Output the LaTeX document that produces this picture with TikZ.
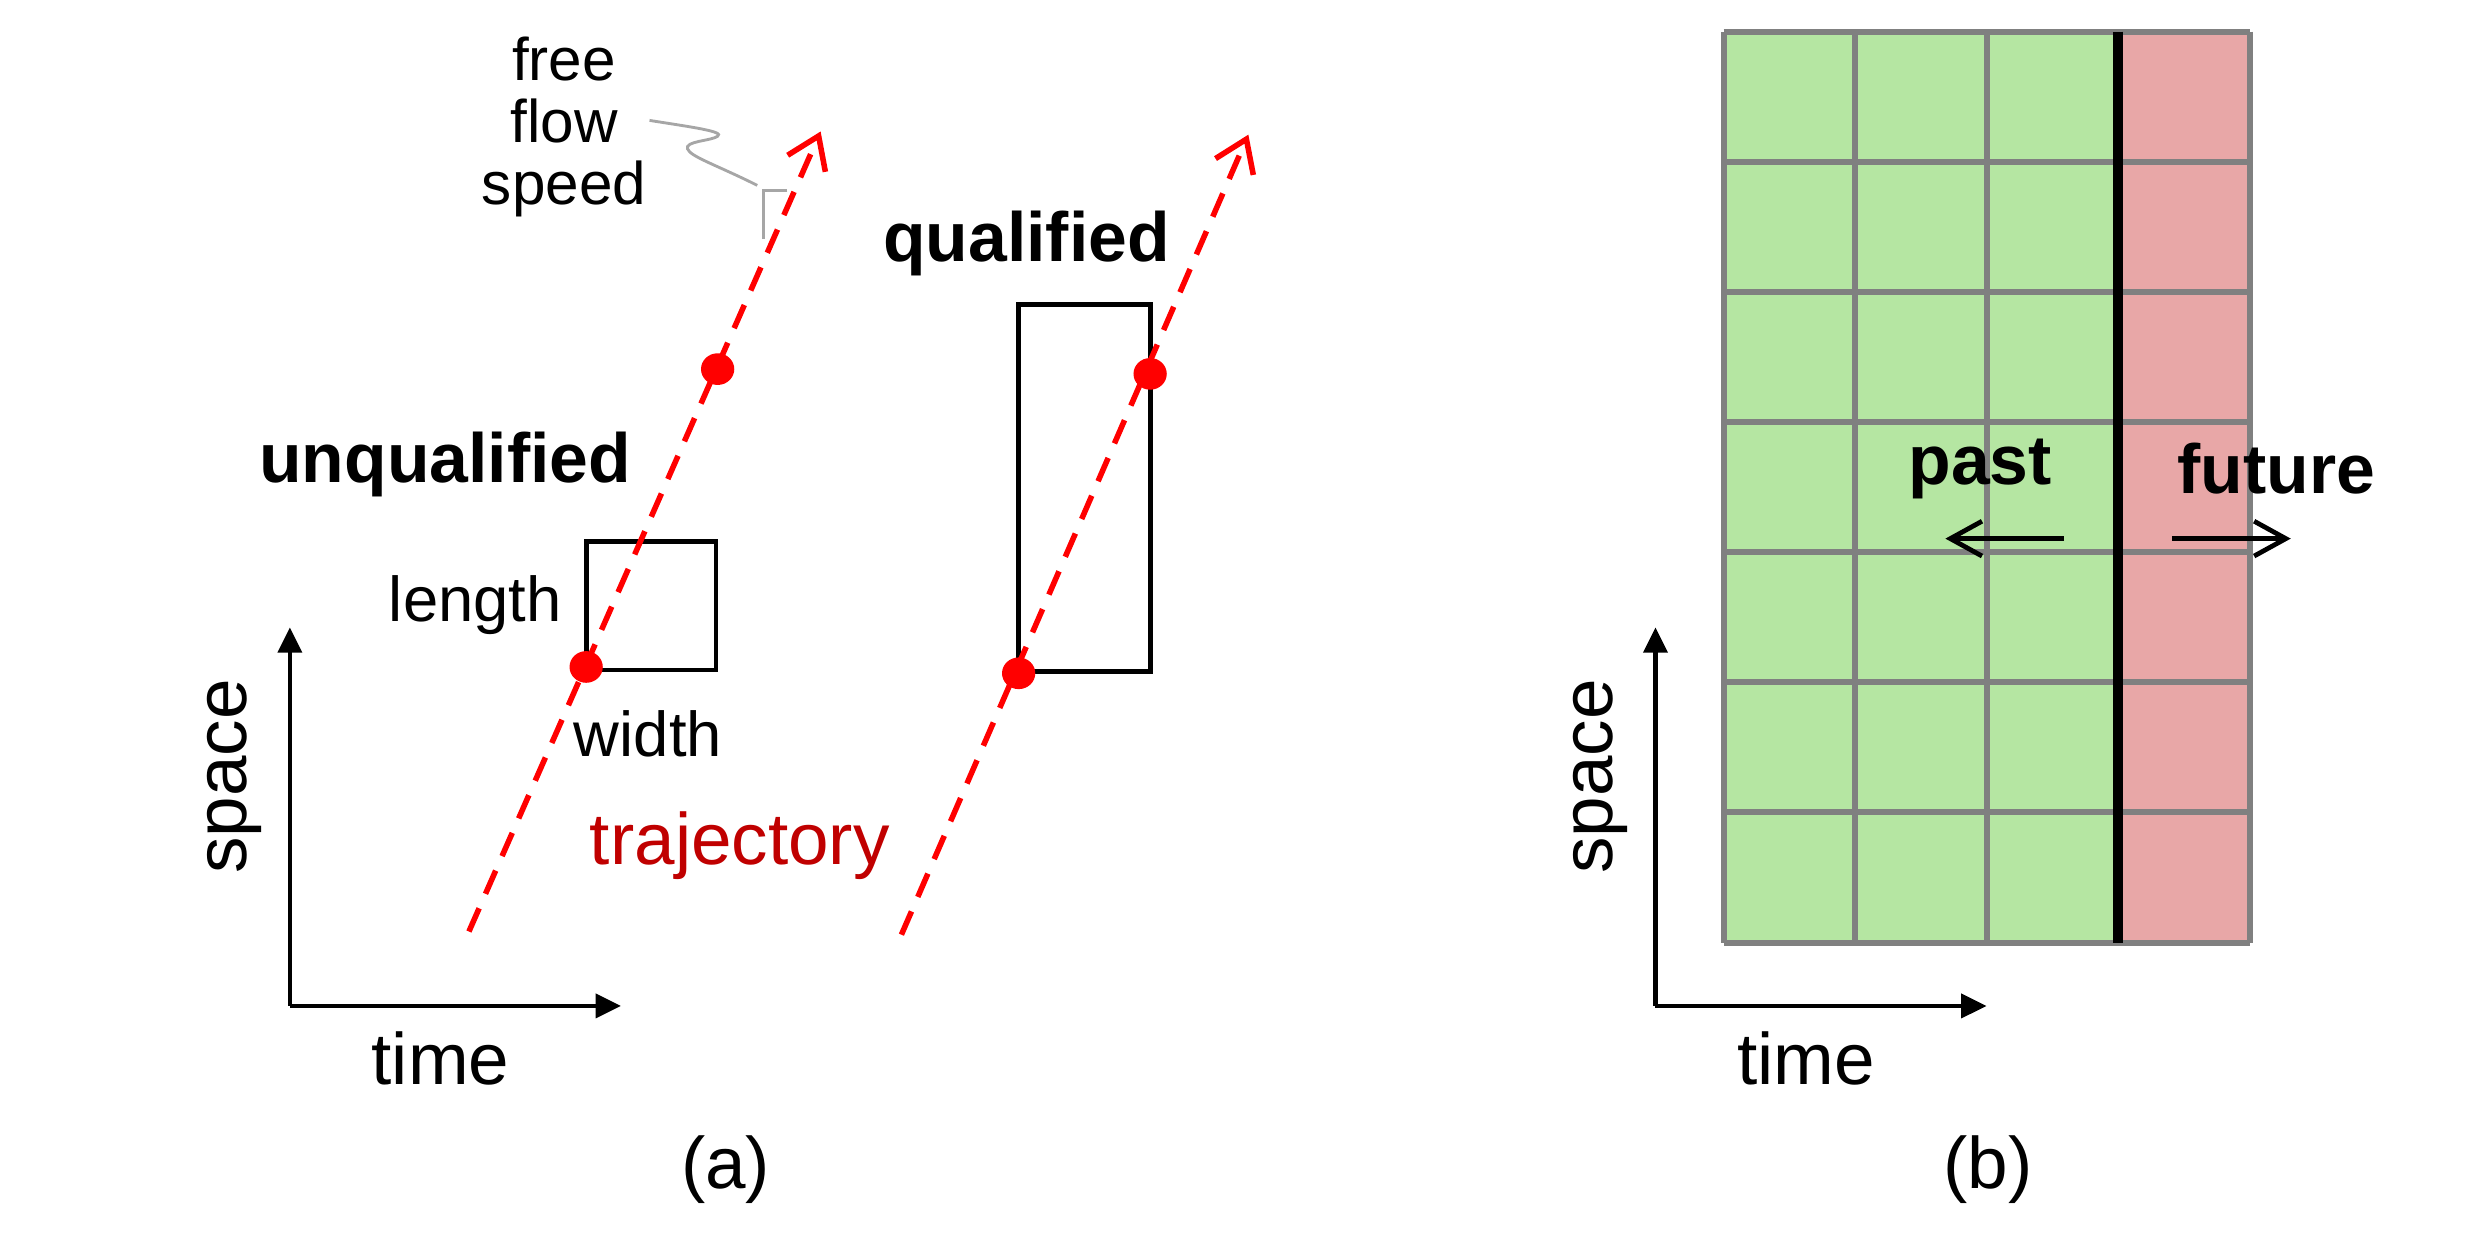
\documentclass[tikz,border=0pt]{standalone}
\usepackage{fontspec}
\setmainfont{Liberation Sans}
\usetikzlibrary{arrows.meta,shapes.geometric}
\definecolor{trajred}{HTML}{FF0000}
\definecolor{labelred}{HTML}{C00000}
\definecolor{gridgray}{HTML}{808080}
\definecolor{cellgreen}{HTML}{B5E6A2}
\definecolor{cellred}{HTML}{E8A7A7}
\definecolor{callgray}{HTML}{A6A6A6}
\begin{document}
\begin{tikzpicture}[x=1pt,y=-1pt,
  axisline/.style={line width=2.8pt,-{Triangle[length=16pt,width=15pt]}},
  trajline/.style={trajred,line width=3.5pt,dash pattern=on 16pt off 10pt,-{Straight Barb[length=19pt,width=26pt,line width=3.5pt]}},
  dotnode/.style={ellipse,fill=trajred,inner sep=0pt,minimum width=21pt,minimum height=20pt},
  boxnode/.style={draw=black,line width=3pt,inner sep=0pt},
  txt/.style={inner sep=0pt,font=\fontsize{46}{52}\selectfont},
  smalltxt/.style={inner sep=0pt,font=\fontsize{40}{46}\selectfont},
  boldtxt/.style={inner sep=0pt,font=\fontsize{44}{50}\selectfont\bfseries},
  pfarrow/.style={line width=3pt,-{Straight Barb[length=20pt,width=22pt,line width=3pt]}},
  gridline/.style={gridgray,line width=3.8pt},
  callout/.style={callgray,line width=1.8pt}
]
\useasboundingbox (0,0) rectangle (1568,795);

% ---------------- panel (a) ----------------
% axes
\coordinate (ao) at (183,635);
\coordinate (ay) at (183,396);
\coordinate (ax) at (392,635);
\draw[axisline] (ao) -- (ay);
\draw[axisline] (ao) -- (ax);
\node[txt,rotate=90] (aspace) at (148,490) {space};
\node[txt] (atime) at (278,668) {time};
\node[txt] (alabel) at (458,738) {(a)};

% boxes
\node[boxnode,minimum width=82pt,minimum height=81pt] (ubox) at (411,382.5) {};
\node[boxnode,minimum width=83pt,minimum height=232pt] (qbox) at (684.5,308) {};

% trajectories
\coordinate (t1s) at (296,588);
\coordinate (t1e) at (518,83);
\coordinate (t2s) at (569,590);
\coordinate (t2e) at (788,85);
\draw[trajline] (t1s) -- (t1e);
\draw[trajline] (t2s) -- (t2e);
\node[dotnode] (d1) at (370,421) {};
\node[dotnode] (d2) at (453,233) {};
\node[dotnode] (d3) at (643,425) {};
\node[dotnode] (d4) at (726,236) {};

% labels
\node[boldtxt] (unq) at (281,293) {unqualified};
\node[boldtxt] (qual) at (648,154) {qualified};
\node[smalltxt] (len) at (300,382) {length};
\node[smalltxt] (wid) at (409,463) {width};
\node[txt,text=labelred] (traj) at (467,534) {trajectory};
\node[inner sep=0pt,align=center,font=\fontsize{38}{39}\selectfont] (ffs) at (356,80) {free\\flow\\speed};

% callout
\coordinate (c1) at (410,76);
\coordinate (c2) at (478,117);
\coordinate (b1) at (497,120);
\coordinate (b2) at (482,120);
\coordinate (b3) at (482,151);
\draw[callout] (c1) .. controls (435,80) and (458,83) .. (453,86)
  .. controls (449,89) and (432,89) .. (434,94)
  .. controls (436,99) and (452,104) .. (c2);
\draw[callout] (b1) -- (b2) -- (b3);

% ---------------- panel (b) ----------------
\fill[cellgreen] (1088,20) rectangle (1337,595);
\fill[cellred] (1337,20) rectangle (1420,595);
\foreach \x in {1088,1171,1254,1420} \draw[gridline] (\x,20) -- (\x,595);
\foreach \k in {0,...,7} \draw[gridline] (1088,20+82.14*\k) -- (1420,20+82.14*\k);
\draw[line width=6pt] (1337,20) -- (1337,595);

\node[boldtxt] (past) at (1250,296) {past};
\node[boldtxt] (fut) at (1437,296) {future};
\coordinate (pa1) at (1303,340);
\coordinate (pa2) at (1228,340);
\coordinate (fa1) at (1371,340);
\coordinate (fa2) at (1446,340);
\draw[pfarrow] (pa1) -- (pa2);
\draw[pfarrow] (fa1) -- (fa2);

\coordinate (bo) at (1045,635);
\coordinate (by) at (1045,396);
\coordinate (bx) at (1254,635);
\draw[axisline] (bo) -- (by);
\draw[axisline] (bo) -- (bx);
\node[txt,rotate=90] (bspace) at (1010,490) {space};
\node[txt] (btime) at (1140,668) {time};
\node[txt] (blabel) at (1255,738) {(b)};
\end{tikzpicture}
\end{document}
